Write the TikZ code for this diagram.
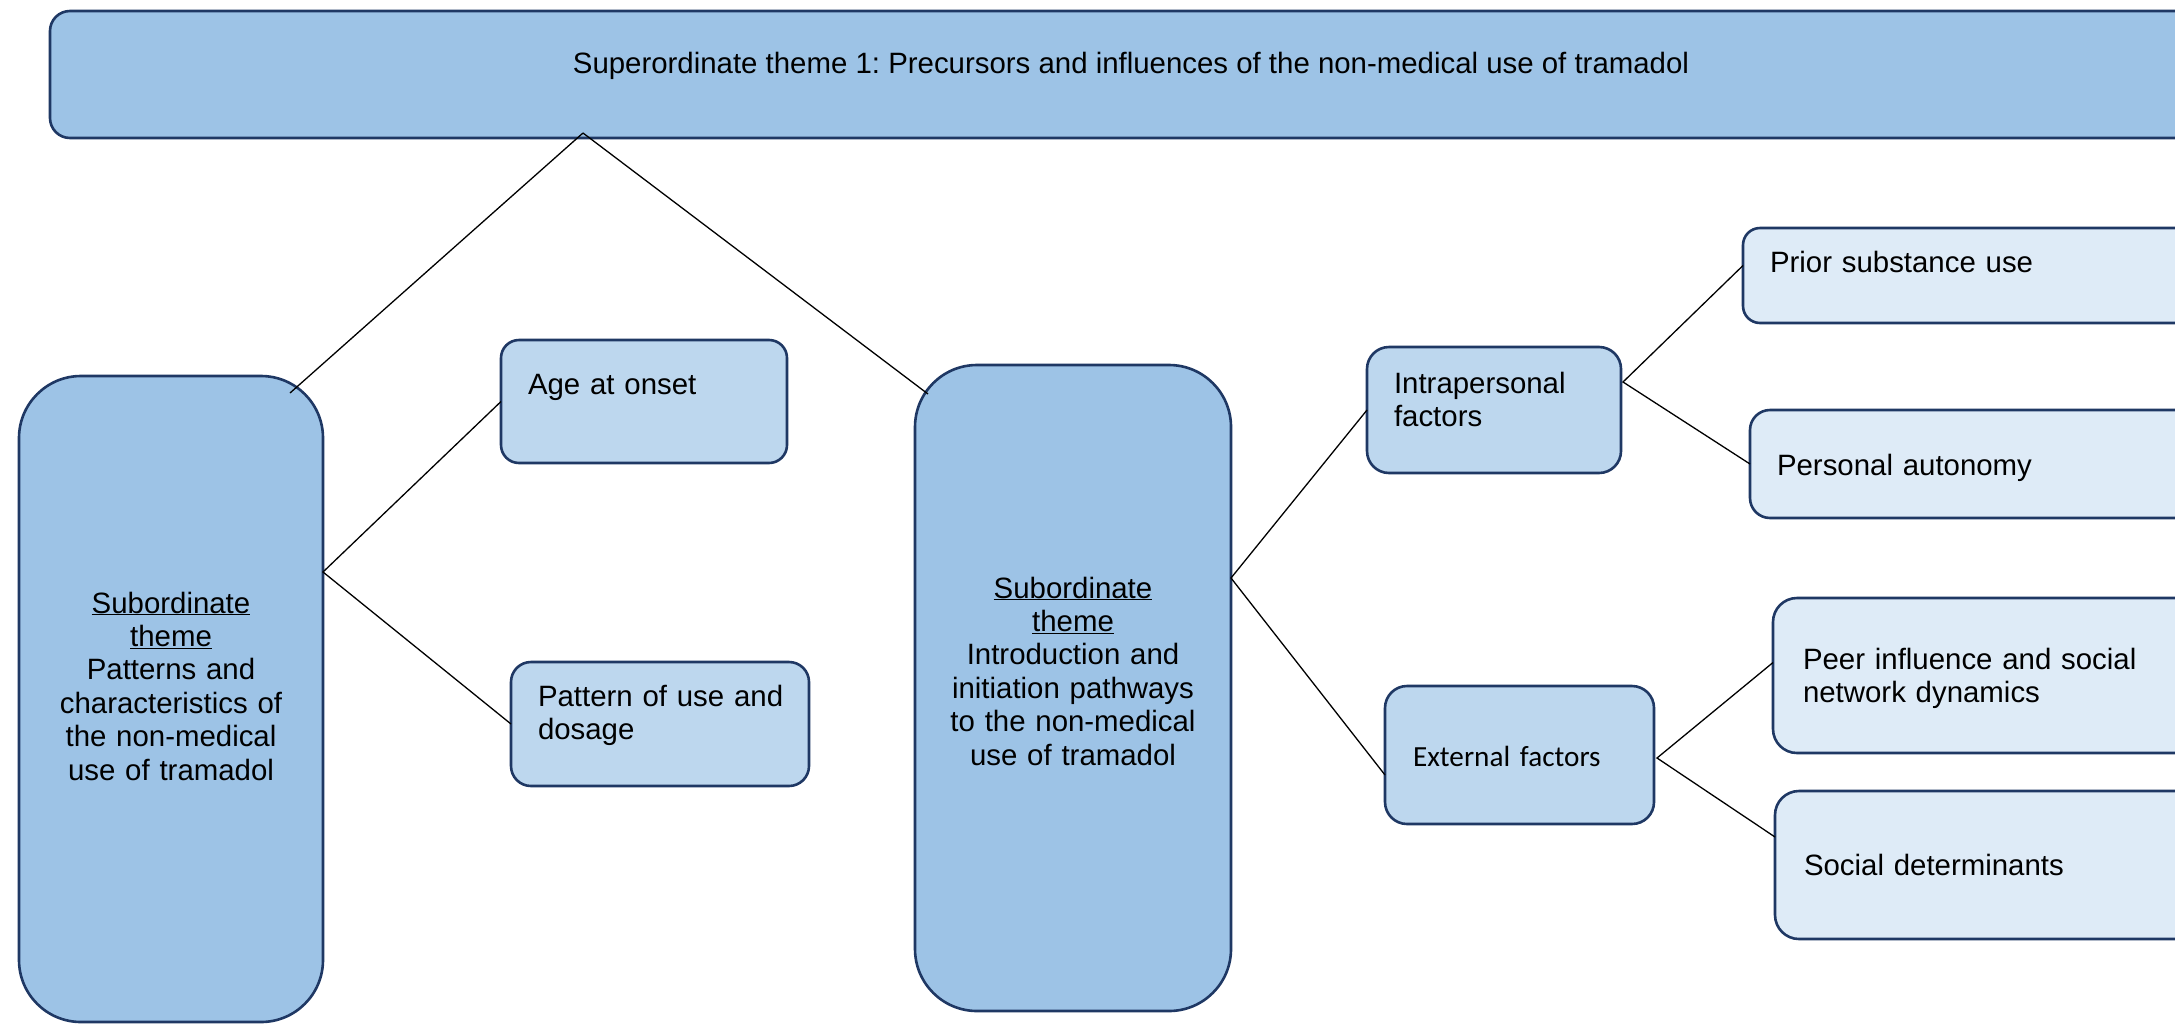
\documentclass[tikz,border=0pt]{standalone}
\usepackage{fontspec}
\setmainfont{Liberation Sans}
\newfontfamily\calibrifont{Carlito}
\usetikzlibrary{calc}
\definecolor{themefill}{HTML}{9DC3E6}
\definecolor{midfill}{HTML}{BDD7EE}
\definecolor{leaffill}{HTML}{DEEBF7}
\definecolor{outline}{HTML}{1F3864}
\frenchspacing

\begin{document}
\begin{tikzpicture}[x=1pt,y=-1pt,
  box/.style={draw=outline, line width=2.6pt, inner sep=0pt, outer sep=0pt, anchor=north west},
  txt/.style={inner sep=0pt, outer sep=0pt, font=\fontsize{29.4}{33.4}\selectfont, text=black},
  ltxt/.style={txt, anchor=base west, text width=420pt, align=left},
  ctxt/.style={txt, anchor=base, text width=300pt, align=center},
  link/.style={draw=black, line width=1.3pt}]

\useasboundingbox (0,0) rectangle (2175,1023);
\clip (0,0) rectangle (2175,1023);
\fill[white] (0,0) rectangle (2175,1023);

% theme boxes
\node[box, fill=themefill, rounded corners=20pt, minimum width=2165pt, minimum height=127pt] (top) at (50,11) {};
\node[box, fill=themefill, rounded corners=62pt, minimum width=304pt, minimum height=646pt] (subA) at (19,376) {};
\node[box, fill=themefill, rounded corners=62pt, minimum width=316pt, minimum height=646pt] (subB) at (915,365) {};

% second level
\node[box, fill=midfill, rounded corners=18pt, minimum width=286pt, minimum height=123pt] (age) at (501,340) {};
\node[box, fill=midfill, rounded corners=20pt, minimum width=298pt, minimum height=124pt] (pattern) at (511,662) {};
\node[box, fill=midfill, rounded corners=22pt, minimum width=254pt, minimum height=126pt] (intra) at (1367,347) {};
\node[box, fill=midfill, rounded corners=22pt, minimum width=269pt, minimum height=138pt] (ext) at (1385,686) {};

% third level
\node[box, fill=leaffill, rounded corners=17pt, minimum width=480pt, minimum height=95pt] (prior) at (1743,228) {};
\node[box, fill=leaffill, rounded corners=20pt, minimum width=480pt, minimum height=108pt] (auton) at (1750,410) {};
\node[box, fill=leaffill, rounded corners=24pt, minimum width=480pt, minimum height=155pt] (peer) at (1773,598) {};
\node[box, fill=leaffill, rounded corners=24pt, minimum width=480pt, minimum height=148pt] (socdet) at (1775,791) {};

% labels
\node[txt, anchor=base] (toptxt) at (1131,73) {Superordinate theme 1: Precursors and influences of the non-medical use of tramadol};
\node[ctxt] (subAtxt) at (171,613) {\underline{Subordinate}\\\underline{theme}\\Patterns and\\characteristics of\\the non-medical\\use of tramadol};
\node[ctxt] (subBtxt) at (1073,598) {\underline{Subordinate}\\\underline{theme}\\Introduction and\\initiation pathways\\to the non-medical\\use of tramadol};
\node[ltxt] (agetxt) at (528,394) {Age at onset};
\node[ltxt] (pattxt) at (538,706) {Pattern of use and\\dosage};
\node[ltxt] (intratxt) at (1394,393) {Intrapersonal\\factors};
\node[ltxt, font=\calibrifont\fontsize{29.2}{33.4}\selectfont] (exttxt) at (1413,766) {External factors};
\node[ltxt] (priortxt) at (1770,272) {Prior substance use};
\node[ltxt] (autontxt) at (1777,475) {Personal autonomy};
\node[ltxt] (peertxt) at (1803,669) {Peer influence and social\\network dynamics};
\node[ltxt] (socdettxt) at (1804,875) {Social determinants};

% connectors
\coordinate (apex) at ($(top.south west)+(533,-5)$);
\draw[link] (apex) -- ($(subA.north east)+(-33,17)$);
\draw[link] (apex) -- ($(subB.north west)+(13,29)$);
\draw[link] (age.west) -- ($(subA.north east)+(0,196)$) -- (pattern.west);
\draw[link] (intra.west) -- ($(subB.north east)+(0,213)$) -- ($(ext.west)+(0,20)$);
\draw[link] ($(prior.west)+(0,-10)$) -- ($(intra.east)+(2,-28)$) -- (auton.west);
\draw[link] ($(peer.west)+(0,-13)$) -- ($(ext.east)+(3,3)$) -- ($(socdet.west)+(0,-28)$);
\end{tikzpicture}
\end{document}
